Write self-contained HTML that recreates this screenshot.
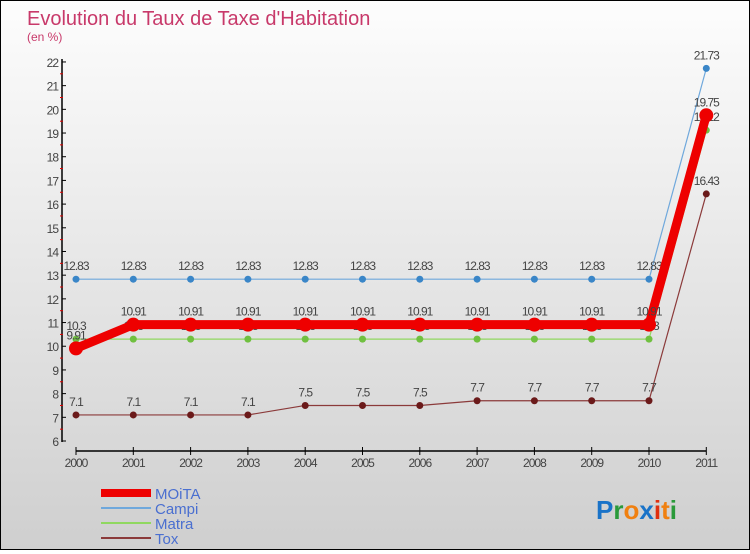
<!DOCTYPE html>
<html><head><meta charset="utf-8"><style>
body{margin:0}
#c{width:748px;height:548px;border:1px solid #000;background:linear-gradient(#fdfdfd,#cfcfcf);position:relative;font-family:"Liberation Sans",sans-serif}
svg text{font-family:"Liberation Sans",sans-serif}
</style></head><body>
<div id="c">
<svg id="s" width="748" height="548" xmlns="http://www.w3.org/2000/svg">
<text x="26" y="24" font-size="20" fill="#c8396a">Evolution du Taux de Taxe d'Habitation</text>
<text x="26" y="40" font-size="12" fill="#c8396a">(en %)</text>
<g id="g"></g>
<text x="595" y="518" font-size="26" font-weight="bold"><tspan fill="#1a73c8">P</tspan><tspan fill="#2a9a3a">r</tspan><tspan fill="#f08010">o</tspan><tspan fill="#1a73c8">x</tspan><tspan fill="#e03010">i</tspan><tspan fill="#f08010">t</tspan><tspan fill="#2a9a3a">i</tspan></text>
</svg></div>
<script>
const years=[2000,2001,2002,2003,2004,2005,2006,2007,2008,2009,2010,2011];
const moita=[9.91,10.91,10.91,10.91,10.91,10.91,10.91,10.91,10.91,10.91,10.91,19.75];
const campi=[12.83,12.83,12.83,12.83,12.83,12.83,12.83,12.83,12.83,12.83,12.83,21.73];
const matra=[10.3,10.3,10.3,10.3,10.3,10.3,10.3,10.3,10.3,10.3,10.3,19.12];
const tox=[7.1,7.1,7.1,7.1,7.5,7.5,7.5,7.7,7.7,7.7,7.7,16.43];
const yTicks=[6,7,8,9,10,11,12,13,14,15,16,17,18,19,20,21,22];
const NS="http://www.w3.org/2000/svg";
const g=document.getElementById('g');
const X=i=>75+i*57.3;
const Y=v=>440-(v-6)*23.69;
function el(t,a){const e=document.createElementNS(NS,t);for(const k in a)e.setAttribute(k,a[k]);g.appendChild(e);return e;}
let e=el('line',{x1:61,y1:58,x2:61,y2:441,stroke:'#000','stroke-width':1.5});


e=el('line',{x1:75,y1:450,x2:705,y2:450,stroke:'#000','stroke-width':1.5});


yTicks.forEach(v=>{
 el('line',{x1:61,x2:65,y1:Y(v),y2:Y(v),stroke:'#000'});
 if(v<22){el('line',{x1:59,x2:62,y1:Y(v+0.5),y2:Y(v+0.5),stroke:'#e00000'});}
 const t=el('text',{x:57,y:Y(v)+5,'font-size':12,fill:'#444','text-anchor':'end','letter-spacing':'-1'});t.textContent=v;
 
 
});
years.forEach((y,i)=>{
 el('line',{x1:X(i),x2:X(i),y1:446,y2:454,stroke:'#000'});
 const t=el('text',{x:X(i),y:466,'font-size':12,fill:'#444','text-anchor':'middle','letter-spacing':'-1'});t.textContent=y;
 
 
});
function series(d,col,w,r,name,ptcol){
 const p=el('polyline',{points:d.map((v,i)=>X(i)+','+Y(v)).join(' '),fill:'none',stroke:col,'stroke-width':w,'stroke-linejoin':'round'});
 
 
 d.forEach((v,i)=>{
  const c=el('circle',{cx:X(i),cy:Y(v),r:r,fill:ptcol});
  
  
  const t=el('text',{x:X(i),y:Y(v)-9,'font-size':12,fill:'#444','text-anchor':'middle','letter-spacing':'-1'});t.textContent=v;
  
  
 });
}
series(campi,'#6fa8dc',1.2,3.5,'campi','#3a86c8');
series(tox,'#8b3a3a',1.2,3.5,'tox','#6b1a1a');
series(matra,'#90d860',1.2,3.5,'matra','#70c040');
series(moita,'#ee0000',9,7,'moita','#ee0000');
const leg=[['MOiTA','#ee0000',8],['Campi','#6fa8dc',2],['Matra','#90d860',2],['Tox','#8b3a3a',2]];
leg.forEach((l,i)=>{
 const y=492+i*15;
 const ln=el('line',{x1:100,x2:150,y1:y,y2:y,stroke:l[1],'stroke-width':l[2]});
 
 
 const t=el('text',{x:154,y:y+6,'font-size':15,fill:'#4a6fd0'});t.textContent=l[0];
 
 
});
</script>
</body></html>
